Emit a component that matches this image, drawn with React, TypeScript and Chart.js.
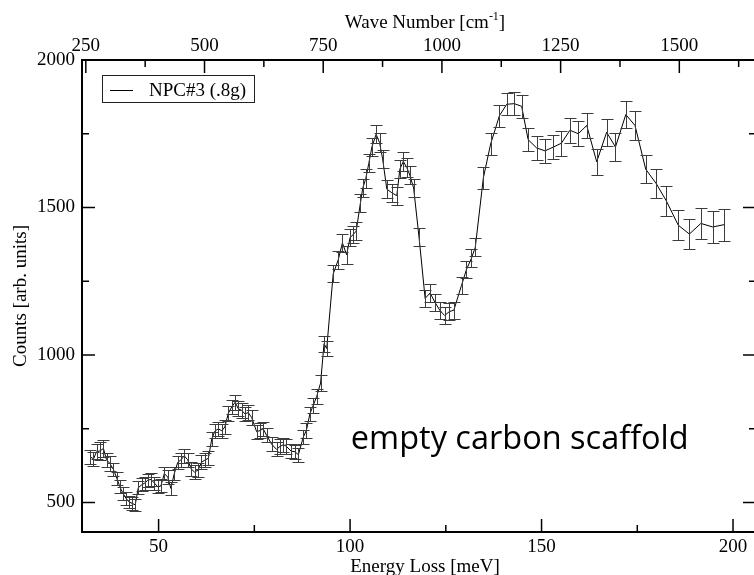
import { useEffect, useRef } from "react";
import { Chart, registerables } from "chart.js";

Chart.register(...registerables);

// Energy loss of each spectrum bin (meV)
const energyLoss = [
  32.1, 33.0, 33.8, 34.7, 35.6, 36.4, 37.3, 38.2, 39.1, 39.9,
  40.7, 41.5, 42.3, 43.1, 43.9, 44.7, 45.6, 46.4, 47.2, 48.0,
  48.9, 49.8, 50.6, 51.5, 52.4, 53.2, 54.1, 55.0, 55.8, 56.7,
  57.6, 58.5, 59.4, 60.3, 61.2, 62.1, 63.0, 63.9, 64.7, 65.6,
  66.5, 67.3, 68.2, 69.1, 70.0, 70.8, 71.7, 72.6, 73.4, 74.3,
  75.6, 76.5, 77.3, 78.2, 79.5, 80.8, 81.7, 82.6, 83.4, 84.6,
  85.6, 86.5, 87.8, 88.6, 89.5, 90.4, 91.3, 92.3, 93.2, 93.9,
  95.6, 96.9, 98.0, 99.1, 100.0, 100.8, 101.6, 102.7, 103.3, 104.1,
  104.9, 105.7, 106.8, 107.7, 108.5, 109.6, 110.9, 112.2, 113.0, 113.9,
  114.8, 115.6, 116.6, 118.0, 119.6, 120.9, 122.2, 123.5, 124.7, 125.9,
  127.1, 129.1, 130.4, 131.7, 132.7, 134.8, 136.7, 139.0, 140.9, 142.9,
  144.8, 146.5, 148.7, 150.9, 153.1, 155.2, 157.4, 159.6, 161.8, 164.4,
  167.0, 169.3, 172.0, 174.4, 177.2, 180.0, 182.6, 185.7, 188.6, 191.6,
  194.7, 197.7,
];

// Counts per bin (arb. units)
const counts = [
  655, 648, 672, 675, 683, 645, 632, 612, 582, 553,
  531, 514, 502, 497, 492, 550, 560, 566, 576, 578,
  566, 553, 556, 598, 586, 548, 598, 636, 644, 658,
  645, 614, 603, 610, 636, 644, 650, 716, 742, 750,
  743, 756, 802, 824, 840, 818, 812, 800, 805, 788,
  740, 744, 750, 728, 698, 680, 690, 696, 690, 674,
  672, 662, 722, 745, 800, 830, 860, 905, 1038, 1022,
  1275, 1322, 1380, 1340, 1398, 1408, 1420, 1515, 1565, 1598,
  1650, 1705, 1748, 1720, 1665, 1562, 1550, 1540, 1630, 1656,
  1636, 1610, 1566, 1400, 1192, 1210, 1178, 1150, 1134, 1147,
  1152, 1236, 1290, 1328, 1365, 1600, 1715, 1811, 1850, 1852,
  1843, 1730, 1702, 1692, 1705, 1718, 1762, 1750, 1778, 1655,
  1755, 1705, 1815, 1778, 1630, 1580, 1522, 1440, 1410, 1446,
  1434, 1442,
];

// Half-height of each error bar (arb. units)
const countErrors = [
  24, 24, 26, 30, 28, 24, 24, 22, 22, 22,
  21, 21, 21, 21, 21, 22, 22, 22, 22, 22,
  22, 22, 22, 23, 23, 23, 23, 23, 23, 24,
  24, 24, 24, 24, 24, 24, 24, 24, 24, 24,
  24, 24, 25, 25, 25, 25, 25, 25, 25, 25,
  24, 24, 24, 24, 24, 24, 24, 24, 24, 24,
  24, 24, 24, 25, 25, 25, 25, 26, 27, 27,
  29, 29, 30, 30, 30, 30, 30, 30, 30, 31,
  31, 31, 31, 31, 31, 31, 31, 31, 31, 31,
  31, 31, 31, 30, 29, 29, 29, 29, 29, 29,
  29, 30, 30, 30, 31, 36, 37, 38, 38, 38,
  39, 39, 40, 40, 41, 42, 42, 42, 44, 45,
  46, 46, 46, 48, 48, 49, 50, 51, 51, 52,
  54, 54,
];

const seriesLabel = "NPC#3 (.8g)";
const annotationText = "empty carbon scaffold";

const energyMajorTicks = [50, 100, 150, 200];
const energyMinorTicks = [75, 125, 175];
const waveMajorTicks = [250, 500, 750, 1000, 1250, 1500];
const waveMinorTicks = [375, 625, 875, 1125, 1375, 1625];
const countMajorTicks = [500, 1000, 1500, 2000];
const countMinorTicks = [750, 1250, 1750];

const MEV_TO_CM = 8.06554;
const ENERGY_MIN = 30;
const ENERGY_MAX = 206;
const COUNT_MIN = 400;
const COUNT_MAX = 2000;

const SERIF = "'Liberation Serif', 'Times New Roman', serif";
const SANS = "'Open Sans', 'Noto Sans', sans-serif";

// Vertical error bars with caps, drawn from the same scales as the line
const errorBars = {
  id: "errorBars",
  afterDatasetsDraw(chart: any) {
    const { ctx } = chart;
    const xs = chart.scales.x;
    const ys = chart.scales.y;
    ctx.save();
    ctx.strokeStyle = "#3c3c3c";
    ctx.lineWidth = 1;
    energyLoss.forEach((e, i) => {
      const px = Math.round(xs.getPixelForValue(e)) + 0.5;
      const top = Math.round(ys.getPixelForValue(counts[i] + countErrors[i])) + 0.5;
      const bot = Math.round(ys.getPixelForValue(counts[i] - countErrors[i])) + 0.5;
      ctx.beginPath();
      ctx.moveTo(px, top);
      ctx.lineTo(px, bot);
      ctx.moveTo(px - 6, top);
      ctx.lineTo(px + 6, top);
      ctx.moveTo(px - 6, bot);
      ctx.lineTo(px + 6, bot);
      ctx.stroke();
    });
    ctx.restore();
  },
};

// Closed frame with inward-pointing major and minor ticks
const frameTicks = {
  id: "frameTicks",
  afterDraw(chart: any) {
    const { ctx, chartArea: a } = chart;
    const { x, x2, y } = chart.scales;
    const MAJOR = 13;
    const MINOR = 7;
    ctx.save();
    ctx.strokeStyle = "#000";
    ctx.lineWidth = 1.5;
    const vTick = (px: number, edge: number, len: number) => {
      ctx.beginPath();
      ctx.moveTo(px, edge);
      ctx.lineTo(px, edge + len);
      ctx.stroke();
    };
    const hTick = (py: number, edge: number, len: number) => {
      ctx.beginPath();
      ctx.moveTo(edge, py);
      ctx.lineTo(edge + len, py);
      ctx.stroke();
    };
    energyMajorTicks.forEach((v) => vTick(x.getPixelForValue(v), a.bottom, -MAJOR));
    energyMinorTicks.forEach((v) => vTick(x.getPixelForValue(v), a.bottom, -MINOR));
    waveMajorTicks.forEach((v) => vTick(x2.getPixelForValue(v), a.top, MAJOR));
    waveMinorTicks.forEach((v) => vTick(x2.getPixelForValue(v), a.top, MINOR));
    countMajorTicks.forEach((v) => {
      hTick(y.getPixelForValue(v), a.left, MAJOR);
      hTick(y.getPixelForValue(v), a.right, -MAJOR);
    });
    countMinorTicks.forEach((v) => {
      hTick(y.getPixelForValue(v), a.left, MINOR);
      hTick(y.getPixelForValue(v), a.right, -MINOR);
    });
    ctx.lineWidth = 2;
    ctx.strokeRect(a.left, a.top, a.right - a.left, a.bottom - a.top);
    ctx.restore();
  },
};

// Axis titles, legend box and the text annotation
const decorations = {
  id: "decorations",
  afterDraw(chart: any) {
    const { ctx, chartArea: a } = chart;
    const cx = (a.left + a.right) / 2 + 6;
    ctx.save();
    ctx.fillStyle = "#000";

    // top axis title with superscript
    ctx.font = `19px ${SERIF}`;
    const part1 = "Wave Number [cm";
    const part3 = "]";
    const supFont = `12px ${SERIF}`;
    const w1 = ctx.measureText(part1).width;
    const w3 = ctx.measureText(part3).width;
    ctx.font = supFont;
    const w2 = ctx.measureText("-1").width;
    let tx = cx - (w1 + w2 + w3) / 2;
    ctx.textBaseline = "alphabetic";
    ctx.textAlign = "left";
    ctx.font = `19px ${SERIF}`;
    ctx.fillText(part1, tx, 28);
    tx += w1;
    ctx.font = supFont;
    ctx.fillText("-1", tx, 20);
    tx += w2;
    ctx.font = `19px ${SERIF}`;
    ctx.fillText(part3, tx, 28);

    // bottom axis title
    ctx.textAlign = "center";
    ctx.fillText("Energy Loss [meV]", cx, 572);

    // left axis title
    ctx.save();
    ctx.translate(21, (a.top + a.bottom) / 2);
    ctx.rotate(-Math.PI / 2);
    ctx.textBaseline = "middle";
    ctx.fillText("Counts [arb. units]", 0, 0);
    ctx.restore();

    // legend
    const lx = a.left + 20;
    const ly = a.top + 15;
    ctx.strokeStyle = "#222";
    ctx.lineWidth = 1;
    ctx.strokeRect(lx + 0.5, ly + 0.5, 152, 27);
    ctx.strokeStyle = "#000";
    ctx.beginPath();
    ctx.moveTo(lx + 8, ly + 15.5);
    ctx.lineTo(lx + 31, ly + 15.5);
    ctx.stroke();
    ctx.textAlign = "left";
    ctx.textBaseline = "alphabetic";
    ctx.font = `19px ${SERIF}`;
    ctx.fillText(seriesLabel, lx + 47, ly + 21);

    // annotation
    ctx.font = `32.5px ${SANS}`;
    ctx.fillText(annotationText, chart.scales.x.getPixelForValue(100.2), chart.scales.y.getPixelForValue(680));
    ctx.restore();
  },
};

export default function App() {
  const canvasRef = useRef<HTMLCanvasElement | null>(null);

  useEffect(() => {
    if (!canvasRef.current) return;
    const tickFont = { family: SERIF, size: 19 };
    const chart = new Chart(canvasRef.current, {
      type: "line",
      data: {
        datasets: [
          {
            label: seriesLabel,
            data: energyLoss.map((e, i) => ({ x: e, y: counts[i] })),
            borderColor: "#000",
            borderWidth: 1,
            pointRadius: 0,
            tension: 0,
            fill: false,
          },
        ],
      },
      plugins: [errorBars, frameTicks, decorations],
      options: {
        animation: false,
        responsive: true,
        maintainAspectRatio: false,
        layout: { padding: { left: 0, right: 4, top: 0, bottom: 0 } },
        plugins: {
          legend: { display: false },
          tooltip: { enabled: false },
        },
        scales: {
          x: {
            type: "linear",
            position: "bottom",
            min: ENERGY_MIN,
            max: ENERGY_MAX,
            grid: { display: false, drawTicks: false },
            border: { display: false },
            afterBuildTicks: (s: any) => {
              s.ticks = energyMajorTicks.map((v) => ({ value: v }));
            },
            afterFit: (s: any) => {
              s.height = 43;
            },
            ticks: {
              font: tickFont,
              color: "#000",
              padding: 4,
              autoSkip: false,
              maxRotation: 0,
              callback: (v: any) => String(v),
            },
          },
          x2: {
            type: "linear",
            position: "top",
            min: ENERGY_MIN * MEV_TO_CM,
            max: ENERGY_MAX * MEV_TO_CM,
            grid: { display: false, drawTicks: false },
            border: { display: false },
            afterBuildTicks: (s: any) => {
              s.ticks = waveMajorTicks.map((v) => ({ value: v }));
            },
            afterFit: (s: any) => {
              s.height = 60;
            },
            ticks: {
              font: tickFont,
              color: "#000",
              padding: 3,
              autoSkip: false,
              maxRotation: 0,
              callback: (v: any) => String(v),
            },
          },
          y: {
            type: "linear",
            position: "left",
            min: COUNT_MIN,
            max: COUNT_MAX,
            grid: { display: false, drawTicks: false },
            border: { display: false },
            afterBuildTicks: (s: any) => {
              s.ticks = countMajorTicks.map((v) => ({ value: v }));
            },
            afterFit: (s: any) => {
              s.width = 82;
            },
            ticks: {
              font: tickFont,
              color: "#000",
              padding: 7,
              callback: (v: any) => String(v),
            },
          },
        },
      },
    } as any);
    return () => chart.destroy();
  }, []);

  return (
    <div
      style={{
        position: "fixed",
        left: 0,
        top: 0,
        width: 754,
        height: 575,
        overflow: "hidden",
        background: "#fff",
      }}
    >
      <div style={{ width: 760, height: 575 }}>
        <canvas ref={canvasRef} />
      </div>
    </div>
  );
}
